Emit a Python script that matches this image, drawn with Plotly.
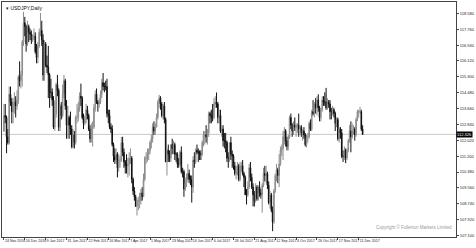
import plotly.graph_objects as go

# ---- data: USDJPY daily bars, 24 Nov 2016 .. 14 Dec 2017 ----
opens = [
    112.50, 113.30, 113.20, 112.20, 111.90,
    114.40, 114.00, 113.50, 113.90, 114.00, 113.80, 114.10, 115.30, 115.10, 115.40, 117.10, 118.10, 117.90, 117.00, 117.90, 117.60, 117.50, 117.20, 117.40, 117.40, 116.60, 116.30,
    116.90, 117.60, 117.70, 117.20, 115.40, 117.00, 115.90, 115.80, 115.40, 114.50, 114.50, 114.10, 112.70, 113.40, 114.90, 114.60, 112.70, 113.80, 113.30, 114.40, 115.10, 113.80,
    112.80, 113.20, 112.80, 112.60, 111.70, 112.30, 111.90, 113.20, 113.20, 113.70, 114.30, 114.20, 113.20, 112.90, 113.10, 113.60, 113.30, 112.60, 112.10, 112.70,
    112.70, 113.70, 114.40, 114.00, 113.90, 114.00, 114.40, 115.00, 114.80, 114.80, 114.80, 113.40, 113.30, 112.70, 112.60, 111.80, 111.20, 111.00, 111.30, 110.60, 111.00, 111.00, 111.90,
    111.40, 110.90, 110.70, 110.70, 110.80, 111.10, 111.10, 110.00, 109.40, 109.10, 108.60, 108.90, 108.90, 108.90, 109.30, 109.10, 110.00, 111.10, 111.10, 111.30,
    111.50, 111.90, 112.10, 112.70, 112.50, 112.70, 113.20, 114.00, 114.20, 113.90, 113.30, 113.80, 113.10, 110.90, 111.50, 111.30, 111.10, 111.80, 111.60, 111.80, 111.30, 111.30, 110.80,
    110.80, 111.40, 110.40, 110.40, 109.50, 109.80, 110.00, 110.30, 110.00, 110.00, 109.60, 111.00, 110.90, 111.50, 111.40, 111.40, 111.30, 111.30, 111.90, 112.30, 112.30, 112.20,
    112.40, 113.40, 113.30, 113.20, 113.20, 113.90, 114.00, 113.90, 113.20, 113.30, 112.50, 112.60, 112.00, 112.00, 111.90, 111.10, 111.10, 111.90, 111.30, 111.20, 110.70,
    110.30, 110.40, 110.70, 110.00, 110.70, 110.70, 110.30, 110.10, 109.20, 109.20, 109.60, 110.60, 110.10, 109.60, 109.20, 108.90, 109.60, 109.00, 109.60, 109.30, 109.20, 109.70, 110.30,
    110.20, 110.30, 109.70, 108.80, 109.20, 108.40, 107.80, 109.40, 110.20, 110.50, 110.20, 110.80, 111.50, 111.60, 112.20, 112.50, 112.00, 111.70, 112.20, 113.20, 112.80,
    112.50, 112.80, 112.70, 112.80, 112.80, 112.60, 112.70, 112.40, 112.50, 112.30, 111.80, 112.20, 112.20, 112.90, 112.60, 113.50, 113.40, 113.90, 113.70, 114.10, 113.70, 113.20,
    113.60, 114.10, 114.00, 114.00, 113.70, 114.00, 113.90, 113.50, 113.50, 113.60, 113.40, 112.90, 113.10, 112.10, 112.60, 112.40, 111.20, 111.20, 111.50, 111.10, 111.50, 112.00,
    112.50, 112.20, 112.50, 112.60, 112.30, 113.10, 113.50, 113.50, 113.50, 112.60,
]
highs = [
    113.90, 113.90, 113.30, 112.60, 114.80,
    114.80, 114.20, 114.20, 114.50, 114.30, 114.60, 115.40, 116.10, 115.60, 117.20, 118.66, 118.40, 118.00, 118.20, 118.00, 117.80, 117.70, 117.50, 117.80, 117.60, 117.00, 117.10,
    117.80, 118.60, 118.20, 117.50, 117.20, 117.10, 116.40, 116.90, 115.50, 115.20, 114.70, 114.30, 114.00, 115.00, 115.40, 114.70, 113.90, 114.00, 114.90, 115.40, 115.20, 114.10,
    113.80, 113.30, 113.50, 112.80, 112.60, 112.50, 113.30, 113.90, 114.00, 114.50, 114.95, 114.30, 113.40, 113.30, 113.90, 113.80, 113.40, 112.80, 112.90, 113.00,
    113.90, 114.60, 114.70, 114.10, 114.20, 114.60, 115.20, 115.50, 115.00, 115.10, 115.20, 113.60, 113.60, 112.90, 112.80, 111.90, 111.60, 111.60, 111.40, 111.30, 111.20, 112.20, 112.20,
    111.60, 111.00, 111.30, 111.10, 111.40, 111.60, 111.20, 110.10, 109.60, 109.20, 109.00, 109.10, 109.30, 109.50, 109.60, 110.30, 111.20, 111.40, 111.60, 111.60,
    112.00, 112.30, 112.90, 113.00, 112.90, 113.40, 114.10, 114.37, 114.30, 114.00, 113.90, 114.00, 113.20, 111.60, 111.80, 111.50, 111.80, 112.10, 112.00, 111.90, 111.40, 111.40, 111.10,
    111.50, 111.70, 110.60, 110.50, 110.10, 110.30, 110.80, 110.50, 110.20, 110.20, 111.20, 111.40, 111.60, 111.80, 111.60, 111.50, 111.50, 112.00, 112.50, 112.50, 112.80, 112.60,
    113.50, 113.50, 113.60, 113.90, 114.20, 114.30, 114.49, 114.00, 113.60, 113.60, 112.80, 112.80, 112.40, 112.40, 112.00, 111.40, 111.90, 112.20, 111.50, 111.30, 110.90,
    110.70, 110.90, 110.80, 110.90, 110.90, 111.00, 110.40, 110.20, 109.50, 109.90, 110.80, 110.90, 110.30, 109.80, 109.40, 109.80, 109.70, 109.70, 109.90, 109.50, 109.80, 110.60, 110.70,
    110.70, 110.40, 109.90, 109.40, 109.30, 108.60, 109.50, 110.30, 110.80, 110.60, 111.30, 111.70, 111.80, 112.50, 112.70, 112.60, 112.20, 112.30, 113.30, 113.40, 112.90,
    113.00, 113.20, 112.90, 112.90, 113.40, 112.80, 112.80, 112.60, 112.70, 112.40, 112.30, 112.40, 113.00, 113.10, 113.60, 114.10, 114.00, 114.20, 114.30, 114.40, 113.80, 113.70,
    114.30, 114.30, 114.50, 114.73, 114.20, 114.10, 114.10, 113.70, 113.80, 113.70, 113.50, 113.20, 113.20, 112.70, 112.70, 112.60, 111.50, 111.70, 111.60, 111.60, 112.10, 112.80,
    113.00, 112.90, 112.80, 112.70, 113.20, 113.60, 113.60, 113.75, 113.60, 112.80,
]
lows = [
    112.45, 112.90, 111.35, 111.80, 111.80,
    113.80, 112.90, 112.90, 113.40, 113.20, 113.60, 113.90, 114.80, 114.70, 114.80, 116.90, 117.40, 116.60, 116.90, 117.10, 117.20, 117.00, 117.10, 117.20, 116.50, 116.00, 116.00,
    116.80, 117.40, 116.90, 115.10, 115.10, 115.80, 115.50, 114.20, 113.70, 114.20, 113.80, 112.60, 112.50, 113.20, 114.30, 112.50, 112.50, 113.10, 113.20, 114.20, 113.60, 112.10,
    112.10, 112.10, 112.30, 111.60, 111.60, 111.60, 111.80, 112.90, 113.00, 113.50, 113.80, 113.10, 112.60, 112.80, 112.90, 113.10, 112.50, 111.90, 111.90, 111.70,
    112.60, 113.50, 113.90, 113.50, 113.70, 113.90, 114.20, 114.60, 114.50, 114.60, 113.20, 112.90, 112.60, 112.40, 111.70, 110.90, 110.80, 110.80, 110.10, 110.40, 110.60, 110.90, 111.20,
    110.60, 110.30, 110.30, 110.10, 110.20, 110.80, 109.80, 109.20, 108.90, 108.60, 108.13, 108.40, 108.50, 108.70, 108.90, 109.10, 109.90, 110.80, 110.90, 111.00,
    111.30, 111.60, 111.90, 112.30, 112.30, 112.70, 113.10, 113.70, 113.60, 113.20, 113.10, 112.90, 110.90, 110.20, 110.90, 110.90, 110.90, 111.30, 111.30, 111.00, 110.90, 110.60, 110.60,
    110.70, 110.30, 110.10, 109.10, 109.40, 109.60, 109.90, 109.80, 109.70, 108.80, 109.30, 110.60, 110.80, 111.30, 110.90, 111.00, 111.00, 111.20, 111.70, 111.80, 111.90, 111.80,
    112.20, 112.90, 112.90, 113.00, 113.10, 113.70, 113.70, 112.90, 112.90, 112.40, 112.20, 111.70, 111.60, 111.40, 110.90, 110.60, 110.90, 111.00, 110.60, 110.50, 110.20,
    110.00, 110.20, 109.90, 109.90, 110.40, 110.20, 109.60, 109.20, 108.70, 109.10, 109.50, 109.90, 109.50, 108.60, 108.60, 108.80, 108.90, 108.90, 109.10, 109.00, 108.28, 109.60, 109.90,
    109.80, 109.50, 108.70, 108.50, 108.30, 107.32, 107.70, 109.30, 109.90, 109.80, 109.60, 110.70, 111.20, 111.00, 111.80, 111.70, 111.50, 111.50, 112.10, 112.60, 112.20,
    112.30, 112.50, 112.20, 112.40, 112.20, 112.30, 112.20, 112.00, 112.10, 111.70, 111.65, 111.90, 112.10, 112.50, 112.50, 113.30, 113.20, 113.40, 113.30, 113.50, 113.00, 113.00,
    113.50, 113.80, 113.80, 113.60, 113.60, 113.70, 113.10, 113.10, 113.30, 113.20, 112.50, 112.70, 112.00, 111.90, 112.10, 111.10, 110.90, 111.00, 110.84, 111.00, 111.40, 111.90,
    111.40, 112.10, 112.30, 112.00, 112.20, 113.00, 113.20, 113.40, 112.50, 112.30,
]
closes = [
    113.30, 113.20, 112.20, 111.90, 114.40,
    114.00, 113.50, 113.90, 114.00, 113.80, 114.10, 115.30, 115.10, 115.40, 117.10, 118.10, 117.90, 117.00, 117.90, 117.60, 117.50, 117.20, 117.40, 117.40, 116.60, 116.30, 116.90,
    117.60, 117.70, 117.20, 115.40, 117.00, 115.90, 115.80, 115.40, 114.50, 114.50, 114.10, 112.70, 113.40, 114.90, 114.60, 112.70, 113.80, 113.30, 114.40, 115.10, 113.80, 112.80,
    113.20, 112.80, 112.60, 111.70, 112.30, 111.90, 113.20, 113.20, 113.70, 114.30, 114.20, 113.20, 112.90, 113.10, 113.60, 113.30, 112.60, 112.10, 112.70, 112.70,
    113.70, 114.40, 114.00, 113.90, 114.00, 114.40, 115.00, 114.80, 114.80, 114.80, 113.40, 113.30, 112.70, 112.60, 111.80, 111.20, 111.00, 111.30, 110.60, 111.00, 111.00, 111.90, 111.40,
    110.90, 110.70, 110.70, 110.80, 111.10, 111.10, 110.00, 109.40, 109.10, 108.60, 108.90, 108.90, 108.90, 109.30, 109.10, 110.00, 111.10, 111.10, 111.30, 111.50,
    111.90, 112.10, 112.70, 112.50, 112.70, 113.20, 114.00, 114.20, 113.90, 113.30, 113.80, 113.10, 110.90, 111.50, 111.30, 111.10, 111.80, 111.60, 111.80, 111.30, 111.30, 110.80, 110.80,
    111.40, 110.40, 110.40, 109.50, 109.80, 110.00, 110.30, 110.00, 110.00, 109.60, 111.00, 110.90, 111.50, 111.40, 111.40, 111.30, 111.30, 111.90, 112.30, 112.30, 112.20, 112.40,
    113.40, 113.30, 113.20, 113.20, 113.90, 114.00, 113.90, 113.20, 113.30, 112.50, 112.60, 112.00, 112.00, 111.90, 111.10, 111.10, 111.90, 111.30, 111.20, 110.70, 110.30,
    110.40, 110.70, 110.00, 110.70, 110.70, 110.30, 110.10, 109.20, 109.20, 109.60, 110.60, 110.10, 109.60, 109.20, 108.90, 109.60, 109.00, 109.60, 109.30, 109.20, 109.70, 110.30, 110.20,
    110.30, 109.70, 108.80, 109.20, 108.40, 107.80, 109.40, 110.20, 110.50, 110.20, 110.80, 111.50, 111.60, 112.20, 112.50, 112.00, 111.70, 112.20, 113.20, 112.80, 112.50,
    112.80, 112.70, 112.80, 112.80, 112.60, 112.70, 112.40, 112.50, 112.30, 111.80, 112.20, 112.20, 112.90, 112.60, 113.50, 113.40, 113.90, 113.70, 114.10, 113.70, 113.20, 113.60,
    114.10, 114.00, 114.00, 113.70, 114.00, 113.90, 113.50, 113.50, 113.60, 113.40, 112.90, 113.10, 112.10, 112.60, 112.40, 111.20, 111.20, 111.50, 111.10, 111.50, 112.00, 112.50,
    112.20, 112.50, 112.60, 112.30, 113.10, 113.50, 113.50, 113.50, 112.60, 112.326,
]
date_labels = ["24 Nov 2016", "16 Dec 2016", "9 Jan 2017", "31 Jan 2017", "22 Feb 2017",
               "16 Mar 2017", "7 Apr 2017", "1 May 2017", "23 May 2017", "14 Jun 2017",
               "6 Jul 2017", "28 Jul 2017", "21 Aug 2017", "12 Sep 2017", "4 Oct 2017",
               "26 Oct 2017", "17 Nov 2017", "11 Dec 2017"]
date_label_bars = [0, 16, 32, 48, 64, 80, 96, 112, 128, 144, 160, 176, 192, 208, 224, 240, 256, 272]
price_ticks = [118.580, 117.760, 116.940, 116.120, 115.300, 114.480, 113.660, 112.840,
               112.020, 111.200, 110.380, 109.560, 108.740, 107.920, 107.100]

assert len(opens) == len(highs) == len(lows) == len(closes)
bars = list(range(len(closes)))
last_price = closes[-1]

FONT = "Liberation Sans, Arial, sans-serif"

fig = go.Figure()
fig.add_trace(go.Candlestick(
    x=bars, open=opens, high=highs, low=lows, close=closes,
    increasing=dict(line=dict(color="#8c8c8c", width=1), fillcolor="#b4b4b4"),
    decreasing=dict(line=dict(color="#111111", width=1), fillcolor="#111111"),
    whiskerwidth=0, showlegend=False, hoverinfo="skip",
))

# current price line
fig.add_shape(type="line", xref="paper", x0=0, x1=1, yref="y", y0=last_price, y1=last_price,
              line=dict(color="#c8c8c8", width=1), layer="below")

fig.update_layout(
    width=476, height=248,
    margin=dict(l=1, r=14, t=1, b=11),
    paper_bgcolor="white", plot_bgcolor="white",
    font=dict(family=FONT, size=4, color="#222222"),
    xaxis=dict(
        range=[-1.5, 346.6], rangeslider=dict(visible=False),
        tickmode="array", tickvals=date_label_bars, ticktext=date_labels,
        ticks="outside", ticklen=2, tickcolor="#444444", tickwidth=1,
        ticklabelposition="outside right", tickangle=0,
        showgrid=False, zeroline=False,
        showline=True, linecolor="#444444", linewidth=1, mirror=True,
        tickfont=dict(size=3.6, color="#222222"),
    ),
    yaxis=dict(
        range=[107.02, 119.17], side="right",
        tickmode="array", tickvals=price_ticks,
        ticktext=[f"{v:.3f}" for v in price_ticks],
        ticks="outside", ticklen=2, tickcolor="#444444", tickwidth=1,
        showgrid=False, zeroline=False,
        showline=True, linecolor="#444444", linewidth=1, mirror=True,
        tickfont=dict(size=4, color="#222222"),
    ),
)

# symbol/timeframe caption
fig.add_annotation(xref="paper", yref="paper", x=0.005, y=0.995, xanchor="left", yanchor="top",
                   text="▾ USDJPY,Daily", showarrow=False,
                   font=dict(family=FONT, size=5, color="#111111"))
# current price marker on the price scale
fig.add_annotation(xref="paper", yref="y", x=1.0, y=last_price, xanchor="left", yanchor="middle",
                   text=f"{last_price:.3f}", showarrow=False, bgcolor="#000000",
                   font=dict(family=FONT, size=4, color="#ffffff"), borderpad=0)
# copyright
fig.add_annotation(xref="paper", yref="paper", x=0.995, y=0.02, xanchor="right", yanchor="bottom",
                   text="Copyright © Fullerton Markets Limited", showarrow=False,
                   font=dict(family=FONT, size=4.5, color="#9a9a9a"))

fig.write_html("out.html")
